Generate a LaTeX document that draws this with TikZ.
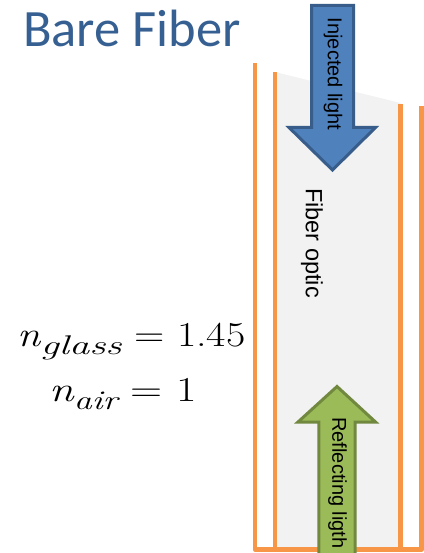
\documentclass[tikz,border=0pt]{standalone}
\usepackage{fontspec}
\usepackage{graphicx}
\newfontfamily\titlefont{Carlito}
\newfontfamily\labelfont{Liberation Sans}
\definecolor{fibOrange}{RGB}{247,150,70}
\definecolor{fibGray}{RGB}{242,242,242}
\definecolor{titleBlue}{RGB}{55,96,146}
\definecolor{arrBlue}{RGB}{79,129,189}
\definecolor{arrBlueD}{RGB}{56,93,138}
\definecolor{arrGreen}{RGB}{155,187,89}
\definecolor{arrGreenD}{RGB}{113,137,63}
\newcommand\nidx[2]{{\itshape n\raisebox{-8pt}{\fontsize{27}{27}\selectfont\scalebox{#2}[1]{#1}}}}
\tikzset{
  cladline/.style={draw=fibOrange, line width=4.5pt, line join=round},
  bluearrow/.style={fill=arrBlue, draw=arrBlueD, line width=3pt, line join=miter},
  greenarrow/.style={fill=arrGreen, draw=arrGreenD, line width=3pt, line join=miter},
  vlabel/.style={rotate=-90, inner sep=0pt, font=\labelfont\fontsize{20}{24}\selectfont},
  mathlabel/.style={inner sep=0pt, anchor=base, font=\fontsize{35}{40}\selectfont}
}
\begin{document}
\begin{tikzpicture}[x=1pt,y=-1pt]
\useasboundingbox (0,0) rectangle (423,553);
% core fill
\fill[fibGray] (275,72) -- (400.5,103) -- (400.5,549.5) -- (275,549.5) -- cycle;
% cladding lines
\draw[cladline] (255,63) -- (255,549.5) -- (421.5,549.5) -- (421.5,106);
\draw[cladline] (275,72) -- (275,549.5);
\draw[cladline] (400.5,104) -- (400.5,549.5);
% injected arrow
\draw[bluearrow] (311.5,5.5) -- (353.5,5.5) -- (353.5,127.5) -- (375.5,127.5) -- (332.5,170)
  -- (289,127.5) -- (311.5,127.5) -- cycle;
\node[vlabel] (inj) at (333,74) {Injected light};
% reflecting arrow
\draw[greenarrow] (318.8,558) -- (318.8,422) -- (298,422) -- (337,386.5) -- (375.5,422)
  -- (355.2,422) -- (355.2,558) -- cycle;
\node[vlabel] (refl) at (337.5,483) {Reflecting ligth};
% fiber label
\node[rotate=-90, inner sep=0pt, font=\labelfont\fontsize{23.5}{28}\selectfont] (fib) at (312,243) {Fiber optic};
% title
\node[anchor=base west, inner sep=0pt, text=titleBlue, font=\titlefont\fontsize{52.5}{60}\selectfont] (title) at (23,47) {Bare Fiber};
% indices
\node[mathlabel] (nglass) at (131.5,346) {\scalebox{1.2}[1]{\nidx{glass}{1.25}\hspace{11pt}=\hspace{10pt}1.45}};
\node[mathlabel] (nair) at (123,401) {\scalebox{1.27}[1]{\nidx{air}{1.05}\hspace{10pt}=\hspace{11pt}1}};
\end{tikzpicture}
\end{document}
